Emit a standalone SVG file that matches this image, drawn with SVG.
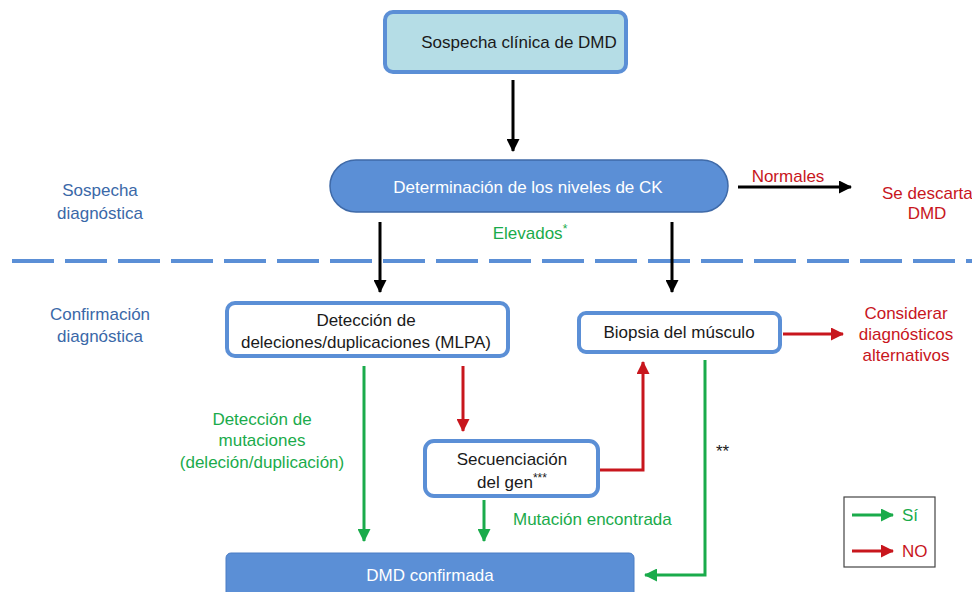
<svg xmlns="http://www.w3.org/2000/svg" width="972" height="592" viewBox="0 0 972 592">
<style>
text{font-family:"Liberation Sans",Arial,sans-serif;font-size:17px;}
.c{text-anchor:middle}
.k{fill:#1a1a1a}
.w{fill:#ffffff}
.g{fill:#1aab4b}
.r{fill:#c8161d}
.b{fill:#3a68a8}
.box{fill:#ffffff;stroke:#5b8fd6;stroke-width:4}
.blk{stroke:#000;stroke-width:3;fill:none}
.grn{stroke:#1aab4b;stroke-width:3;fill:none}
.red{stroke:#c8161d;stroke-width:3;fill:none}
</style>
<defs>
<marker id="ak" markerWidth="13" markerHeight="13" refX="12" refY="6.5" orient="auto" markerUnits="userSpaceOnUse" viewBox="0 0 13 13"><path d="M0,0 L13,6.5 L0,13 z" fill="#000"/></marker>
<marker id="ag" markerWidth="13" markerHeight="13" refX="12" refY="6.5" orient="auto" markerUnits="userSpaceOnUse" viewBox="0 0 13 13"><path d="M0,0 L13,6.5 L0,13 z" fill="#1aab4b"/></marker>
<marker id="ar" markerWidth="13" markerHeight="13" refX="12" refY="6.5" orient="auto" markerUnits="userSpaceOnUse" viewBox="0 0 13 13"><path d="M0,0 L13,6.5 L0,13 z" fill="#c8161d"/></marker>
</defs>

<line x1="12" y1="261" x2="972" y2="261" stroke="#5b8fd6" stroke-width="4" stroke-dasharray="42,11"/>

<text class="b c" x="100" y="196">Sospecha</text>
<text class="b c" x="100" y="219">diagnóstica</text>
<text class="b c" x="100" y="320">Confirmación</text>
<text class="b c" x="100" y="342">diagnóstica</text>

<g id="connectors">
<line class="blk" x1="513" y1="80" x2="513" y2="151" marker-end="url(#ak)"/>
<line class="blk" x1="738" y1="187" x2="851" y2="187" marker-end="url(#ak)"/>
<line class="blk" x1="380" y1="222" x2="380" y2="292" marker-end="url(#ak)"/>
<line class="blk" x1="672" y1="222" x2="672" y2="292" marker-end="url(#ak)"/>
<line class="red" x1="783" y1="334" x2="843" y2="334" marker-end="url(#ar)"/>
<line class="grn" x1="364" y1="366" x2="364" y2="541" marker-end="url(#ag)"/>
<line class="red" x1="463" y1="366" x2="463" y2="431" marker-end="url(#ar)"/>
<polyline class="red" points="600,470 643,470 643,362" marker-end="url(#ar)"/>
<polyline class="grn" points="705,360 705,575 645,575" marker-end="url(#ag)"/>
<line class="grn" x1="484" y1="500" x2="484" y2="541" marker-end="url(#ag)"/>
</g>

<text class="r c" x="788" y="182">Normales</text>
<text class="r" x="882" y="199">Se descarta</text>
<text class="r c" x="927" y="219">DMD</text>
<text class="g c" x="530" y="239">Elevados<tspan font-size="12" dy="-6">*</tspan></text>
<text class="r c" x="906" y="319">Considerar</text>
<text class="r c" x="906" y="340">diagnósticos</text>
<text class="r c" x="906" y="361">alternativos</text>
<text class="g c" x="262" y="425">Detección de</text>
<text class="g c" x="262" y="446">mutaciones</text>
<text class="g c" x="262" y="468">(deleción/duplicación)</text>
<text class="k" x="716" y="457" font-size="13">**</text>
<text class="g" x="513" y="525">Mutación encontrada</text>

<g id="sospecha">
<rect x="385" y="12" width="241" height="60" rx="8" fill="#b5dde6" stroke="#5b8fd6" stroke-width="4"/>
<text class="k c" x="519" y="48">Sospecha clínica de DMD</text>
</g>

<g id="ck">
<rect x="330" y="160" width="398" height="52" rx="26" fill="#5b8fd6" stroke="#3f6aa8" stroke-width="1.5"/>
<text class="w c" x="528" y="193">Determinación de los niveles de CK</text>
</g>

<g id="mlpa">
<rect class="box" x="227" y="303" width="281" height="53" rx="8"/>
<text class="k c" x="366" y="326">Detección de</text>
<text class="k c" x="366" y="348">deleciones/duplicaciones (MLPA)</text>
</g>

<g id="biopsia">
<rect class="box" x="579" y="313" width="201" height="39" rx="7"/>
<text class="k c" x="679" y="338">Biopsia del músculo</text>
</g>

<g id="secuenciacion">
<rect class="box" x="425" y="441" width="173" height="55" rx="9"/>
<text class="k c" x="512" y="465">Secuenciación</text>
<text class="k c" x="512" y="488">del gen<tspan font-size="12" dy="-6">***</tspan></text>
</g>

<g id="confirmada">
<rect x="226" y="553" width="408" height="45" rx="5" fill="#5b8fd6" stroke="#4a7cc4" stroke-width="1"/>
<text class="w c" x="430" y="581">DMD confirmada</text>
</g>

<g id="legend">
<rect x="844" y="497" width="91" height="70" fill="#fff" stroke="#444" stroke-width="1.2"/>
<line class="grn" x1="852" y1="515" x2="893" y2="515" marker-end="url(#ag)"/>
<text class="g" x="902" y="521">Sí</text>
<line class="red" x1="852" y1="551" x2="893" y2="551" marker-end="url(#ar)"/>
<text class="r" x="902" y="557">NO</text>
</g>
</svg>
